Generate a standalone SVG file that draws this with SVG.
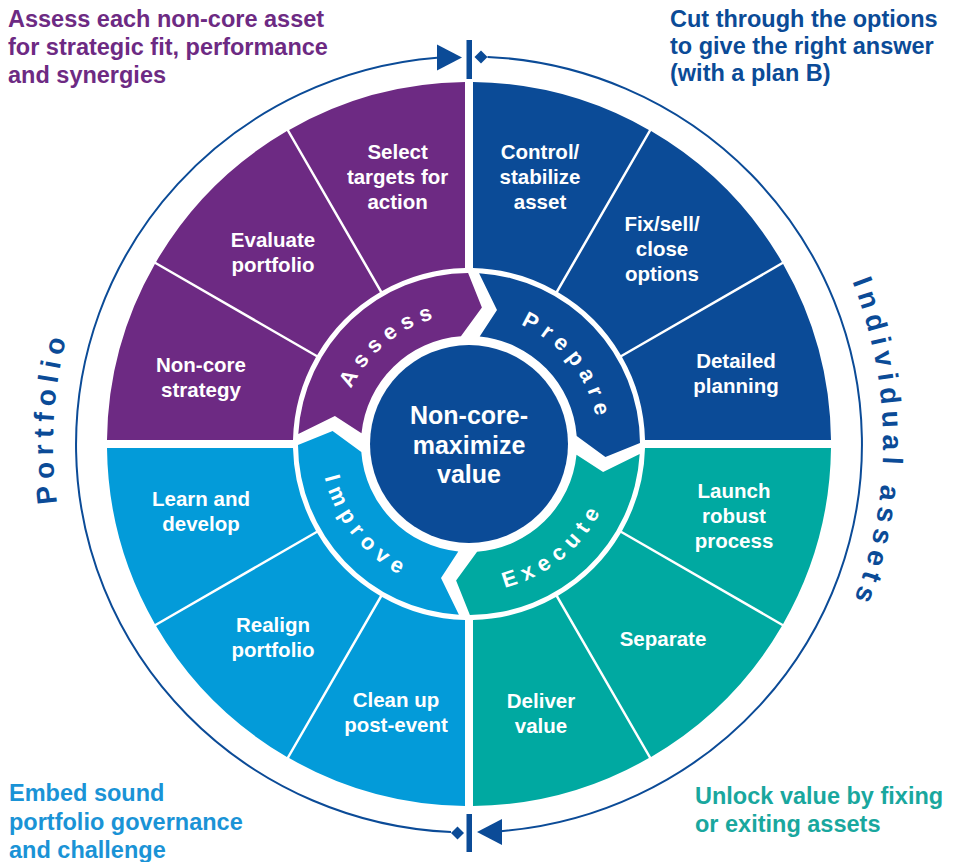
<svg xmlns="http://www.w3.org/2000/svg" width="962" height="862" viewBox="0 0 962 862">
<style>
text{font-family:"Liberation Sans",Arial,sans-serif;font-weight:bold}
.lbl{font-size:20.5px;fill:#fff;text-anchor:middle}
.ctr{font-size:25px;fill:#fff;text-anchor:middle}
.bandtxt{font-size:22px;fill:#fff;letter-spacing:6.8px;text-anchor:middle}
.side{font-size:28px;fill:#0B4B97;letter-spacing:6.2px;text-anchor:middle}
.head{font-size:23.5px}
.purple{fill:#6D2A83}
.dkblue{fill:#0B4B97}
.teal{fill:#00A9A1}
.ltblue{fill:#039BD9}
.ring{fill:none;stroke:#0B4B97;stroke-width:2}
</style>
<defs>
<path id="seg1" d="M473 82.0 A362 362 0 0 1 648.9 129.9 L555.9 291.0 A176 176 0 0 0 473 268.0 Z"/>
<path id="seg2" d="M651.1 131.1 A362 362 0 0 1 781.9 261.9 L620.8 354.9 A176 176 0 0 0 558.1 292.2 Z"/>
<path id="seg3" d="M783.1 264.1 A362 362 0 0 1 831.0 440 L645.0 440 A176 176 0 0 0 622.0 357.1 Z"/>
<path id="band" d="M479.1 273.3 A171 171 0 0 1 640.0 443.1 L605.4 456.9 L576.7 435.9 A108 108 0 0 0 479.7 336.5 L497.0 309.9 Z"/>
<path id="tpAssess" d="M339.7 430.4 A130 130 0 0 1 482.6 314.7"/>
<path id="tpPrepare" d="M484.8 315.0 A130 130 0 0 1 598.0 459.8"/>
<path id="tpExecute" d="M454.8 591.3 A148 148 0 0 0 616.3 458.2"/>
<path id="tpImprove" d="M321.9 427.8 A148 148 0 0 0 452.8 591.1"/>
<path id="tpPortfolio" d="M134.2 691.0 A416 416 0 0 1 167.7 157.1"/>
<path id="tpIndividual" d="M780.1 160.2 A440 440 0 0 1 780.1 725.8"/>
<path id="tri" d="M0 0 L-25 -13 L-25 13 Z"/>
<path id="dia" d="M0 -6.5 L6.5 0 L0 6.5 L-6.5 0 Z"/>
</defs>
<rect width="962" height="862" fill="#fff"/>

<g id="connectors">
<path class="ring" d="M451 832.1 A393 388 0 0 1 437 57.8"/>
<path class="ring" d="M487.5 56.9 A393 388 0 0 1 500.7 831.2"/>
<use href="#tri" class="dkblue" transform="translate(462 57.5)"/>
<use href="#dia" class="dkblue" transform="translate(481 57)"/>
<rect class="dkblue" x="466.5" y="40" width="5.5" height="39"/>
<use href="#tri" class="dkblue" transform="translate(477 832) scale(-1 1)"/>
<use href="#dia" class="dkblue" transform="translate(457.5 833)"/>
<rect class="dkblue" x="466.5" y="814" width="5.5" height="38"/>
</g>

<g id="seg-select"><use href="#seg3" class="purple" transform="rotate(270 469 444)"/>
<text class="lbl"><tspan x="397.6" y="159.4">Select</tspan><tspan x="397.6" y="184.4">targets for</tspan><tspan x="397.6" y="209.4">action</tspan></text></g>
<g id="seg-evaluate"><use href="#seg2" class="purple" transform="rotate(270 469 444)"/>
<text class="lbl"><tspan x="273" y="247">Evaluate</tspan><tspan x="273" y="272">portfolio</tspan></text></g>
<g id="seg-noncore"><use href="#seg1" class="purple" transform="rotate(270 469 444)"/>
<text class="lbl"><tspan x="201" y="372">Non-core</tspan><tspan x="201" y="397">strategy</tspan></text></g>

<g id="seg-control"><use href="#seg1" class="dkblue"/>
<text class="lbl"><tspan x="540" y="159.4">Control/</tspan><tspan x="540" y="184.4">stabilize</tspan><tspan x="540" y="209.4">asset</tspan></text></g>
<g id="seg-fixsell"><use href="#seg2" class="dkblue"/>
<text class="lbl"><tspan x="662" y="231">Fix/sell/</tspan><tspan x="662" y="256">close</tspan><tspan x="662" y="281">options</tspan></text></g>
<g id="seg-detailed"><use href="#seg3" class="dkblue"/>
<text class="lbl"><tspan x="736" y="368">Detailed</tspan><tspan x="736" y="393">planning</tspan></text></g>

<g id="seg-launch"><use href="#seg1" class="teal" transform="rotate(90 469 444)"/>
<text class="lbl"><tspan x="734" y="498">Launch</tspan><tspan x="734" y="523">robust</tspan><tspan x="734" y="548">process</tspan></text></g>
<g id="seg-separate"><use href="#seg2" class="teal" transform="rotate(90 469 444)"/>
<text class="lbl"><tspan x="663" y="646">Separate</tspan></text></g>
<g id="seg-deliver"><use href="#seg3" class="teal" transform="rotate(90 469 444)"/>
<text class="lbl"><tspan x="541" y="708">Deliver</tspan><tspan x="541" y="733">value</tspan></text></g>

<g id="seg-cleanup"><use href="#seg1" class="ltblue" transform="rotate(180 469 444)"/>
<text class="lbl"><tspan x="396" y="707">Clean up</tspan><tspan x="396" y="732">post-event</tspan></text></g>
<g id="seg-realign"><use href="#seg2" class="ltblue" transform="rotate(180 469 444)"/>
<text class="lbl"><tspan x="273" y="632">Realign</tspan><tspan x="273" y="657">portfolio</tspan></text></g>
<g id="seg-learn"><use href="#seg3" class="ltblue" transform="rotate(180 469 444)"/>
<text class="lbl"><tspan x="201" y="506">Learn and</tspan><tspan x="201" y="531">develop</tspan></text></g>

<g id="band-assess"><use href="#band" class="purple" transform="rotate(270 469 444)"/>
<text class="bandtxt"><textPath href="#tpAssess" startOffset="50%">Assess</textPath></text></g>
<g id="band-prepare"><use href="#band" class="dkblue"/>
<text class="bandtxt"><textPath href="#tpPrepare" startOffset="50%">Prepare</textPath></text></g>
<g id="band-execute"><use href="#band" class="teal" transform="rotate(90 469 444)"/>
<text class="bandtxt"><textPath href="#tpExecute" startOffset="50%">Execute</textPath></text></g>
<g id="band-improve"><use href="#band" class="ltblue" transform="rotate(180 469 444)"/>
<text class="bandtxt"><textPath href="#tpImprove" startOffset="50%">Improve</textPath></text></g>

<g id="center"><circle cx="469" cy="444" r="99" class="dkblue"/>
<text class="ctr"><tspan x="469" y="424">Non-core-</tspan><tspan x="469" y="454">maximize</tspan><tspan x="469" y="483">value</tspan></text></g>

<g id="side-portfolio"><text class="side"><textPath href="#tpPortfolio" startOffset="50%">Portfolio</textPath></text></g>
<g id="side-individual"><text class="side"><textPath href="#tpIndividual" startOffset="50%">Individual assets</textPath></text></g>

<g id="note-assess"><text class="head purple"><tspan x="8" y="27">Assess each non-core asset</tspan><tspan x="8" y="55">for strategic fit, performance</tspan><tspan x="8" y="83">and synergies</tspan></text></g>
<g id="note-prepare"><text class="head dkblue"><tspan x="670" y="27">Cut through the options</tspan><tspan x="670" y="54">to give the right answer</tspan><tspan x="670" y="81">(with a plan B)</tspan></text></g>
<g id="note-improve"><text class="head" fill="#1A93D6"><tspan x="9" y="801">Embed sound</tspan><tspan x="9" y="830">portfolio governance</tspan><tspan x="9" y="858">and challenge</tspan></text></g>
<g id="note-execute"><text class="head" fill="#19A79E"><tspan x="695" y="804">Unlock value by fixing</tspan><tspan x="695" y="832">or exiting assets</tspan></text></g>
</svg>
